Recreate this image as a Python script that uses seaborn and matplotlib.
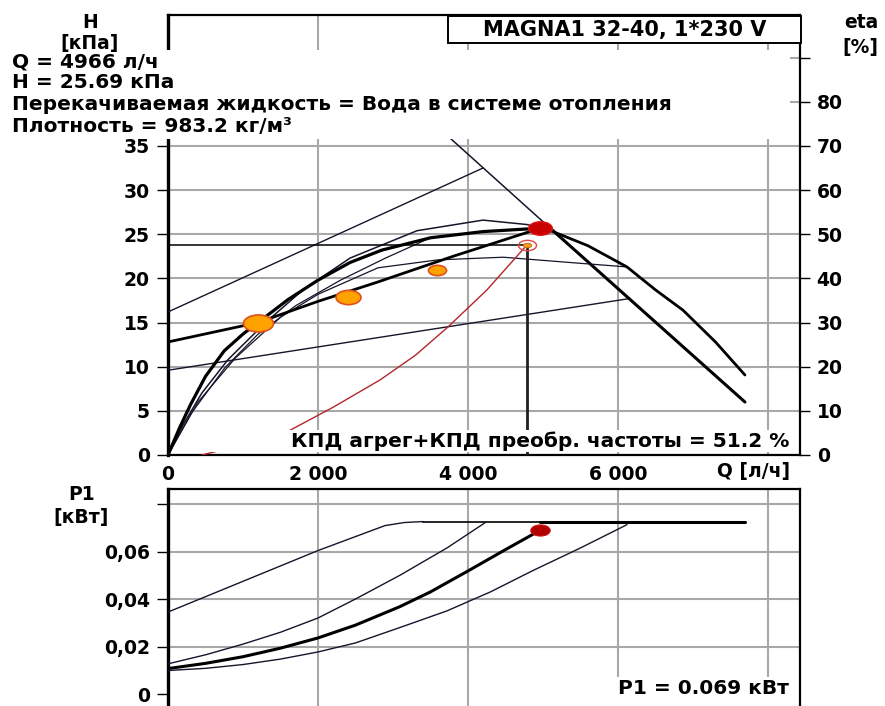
import numpy as np
import matplotlib
matplotlib.use("Agg")
import matplotlib.pyplot as plt
import seaborn as sns
from matplotlib.path import Path
from matplotlib.transforms import Affine2D
from matplotlib.patches import Rectangle

# ---------------- head curves: Q [л/ч], H [кПа] ----------------
q_steep = [0, 150, 300, 500, 750, 1000, 1200, 1600, 2000, 2427, 2850, 3500, 4200, 4966]
h_steep = [0, 3.0, 5.7, 8.9, 11.8, 13.7, 15.0, 17.6, 19.8, 21.8, 23.2, 24.6, 25.3, 25.69]

q_arc = [0, 200, 450, 800, 1300, 1800, 2427, 3320, 4200, 4787, 4966]
h_arc = [0, 3.4, 7.0, 10.8, 15.0, 18.7, 22.3, 25.4, 26.6, 26.1, 25.69]

q_max = [4966, 5133, 5600, 6120, 6500, 6867, 7300, 7693]
h_max = [25.69, 25.3, 23.7, 21.3, 18.7, 16.4, 12.8, 9.06]

q_mid = [0, 300, 760, 1190, 1700, 2300, 2900, 3500]
h_mid = [0, 4.6, 9.9, 13.6, 16.9, 19.8, 22.3, 24.6]

q_low = [0, 400, 900, 1500, 2000, 2800, 3600, 4470, 5360, 6120]
h_low = [0, 6.0, 11.0, 15.6, 18.2, 21.2, 22.1, 22.4, 21.8, 21.3]

q_prop = [0, 1200, 2000, 2800, 3800, 4966]
h_prop = [12.8, 15.0, 17.4, 19.6, 22.5, 25.69]

q_pp_hi = [0, 4200]
h_pp_hi = [16.2, 32.5]
q_pp_lo = [0, 6140]
h_pp_lo = [9.6, 17.7]

q_lim_thin = [3760, 5100]
h_lim_thin = [35.9, 25.66]
q_lim_thick = [5100, 7693]
h_lim_thick = [25.66, 6.0]

# efficiency curve, eta [%]
q_eta = [450, 1000, 1627, 2200, 2827, 3300, 3733, 4253, 4787]
eta_vals = [0, 2.3, 5.6, 10.8, 17.0, 22.6, 29.0, 37.4, 47.6]

# duty point and load profile points
q_duty, h_duty = 4966, 25.69
q_eta_pt, eta_pt = 4787, 47.6
q_profile = [1200, 2400, 3590]
h_profile = [15.0, 17.9, 21.0]
profile_width_pt = [21.6, 18.0, 13.0]

# ---------------- power curves: P1 [кВт] ----------------
q_p_a = [0, 2000, 2893, 3150, 3400]
p_a = [0.0345, 0.0604, 0.0709, 0.0722, 0.0726]
q_p_flat_thin = [3400, 4966]
p_flat_thin = [0.0726, 0.0726]
q_p_flat_thick = [4966, 7693]
p_flat_thick = [0.0726, 0.0726]
q_p_b = [0, 500, 1000, 1500, 2000, 2500, 3093, 3720, 4227]
p_b = [0.0127, 0.0165, 0.0210, 0.0260, 0.0320, 0.0400, 0.0500, 0.0615, 0.0721]
q_p_c = [0, 500, 1000, 1500, 2000, 2500, 3093, 3500, 4000, 4500, 4966]
p_c = [0.0107, 0.0129, 0.0157, 0.0193, 0.0236, 0.0290, 0.0368, 0.0430, 0.0518, 0.0608, 0.069]
q_p_d = [0, 500, 1000, 1500, 2000, 2500, 3093, 3720, 4300, 4867, 5500, 6120]
p_d = [0.0099, 0.0108, 0.0124, 0.0147, 0.0177, 0.0215, 0.0280, 0.0350, 0.0430, 0.0520, 0.0615, 0.0713]
p_duty = 0.069

# axis ticks
x_ticks = [0, 2000, 4000, 6000, 8000]
x_labels = ["0", "2 000", "4 000", "6 000", ""]
h_ticks = list(range(0, 50, 5))
h_labels = [str(v) if v <= 35 else "" for v in h_ticks]
eta_ticks = list(range(0, 100, 10))
eta_labels = [str(v) if v <= 80 else "" for v in eta_ticks]
p_ticks = [0, 0.02, 0.04, 0.06, 0.08]
p_labels = ["0", "0,02", "0,04", "0,06", ""]

# ---------------- figure ----------------
sns.set_theme(style="white")
plt.rcParams["font.family"] = ["DejaVu Sans"]
plt.rcParams["font.weight"] = "bold"

FW, FH = 885, 706
fig = plt.figure(figsize=(FW / 100, FH / 100), dpi=100)


def fx(p):
    return p / FW


def fy(p):
    return 1 - p / FH


ax = fig.add_axes([fx(168), fy(455), (800 - 168) / FW, (455 - 15) / FH])
# lower panel runs past the bottom edge of the figure
ax_p = fig.add_axes([fx(168), fy(712), (800 - 168) / FW, (712 - 489) / FH])

INK = "#000000"
THIN = "#15152b"
GRID = "#a8a8a8"
TICK_FS = 13.5

ellipse = Affine2D().scale(1.75, 1.0).transform_path(Path.unit_circle())


def line(axis, q, v, lw, color=THIN, z=3):
    sns.lineplot(x=q, y=v, ax=axis, color=color, linewidth=lw, sort=False,
                 estimator=None, legend=False, zorder=z)


# head chart
line(ax, q_pp_hi, h_pp_hi, 1.0)
line(ax, q_pp_lo, h_pp_lo, 1.0)
line(ax, q_lim_thin, h_lim_thin, 1.1)
line(ax, q_lim_thick, h_lim_thick, 2.2, INK)
line(ax, q_low, h_low, 0.9)
line(ax, q_mid, h_mid, 0.9)
line(ax, q_arc, h_arc, 1.1)
line(ax, q_max, h_max, 2.0, INK)
line(ax, q_steep, h_steep, 2.3, INK)
line(ax, q_prop, h_prop, 2.0, INK)
line(ax, [0, q_eta_pt], [eta_pt / 2, eta_pt / 2], 1.1, INK)
line(ax, [q_eta_pt, q_eta_pt], [0, eta_pt / 2], 2.0, "#202020")

ax.set_xlim(0, 8427)
ax.set_ylim(0, 49.83)
ax.set_xticks(x_ticks)
ax.set_xticklabels(x_labels)
ax.set_yticks(h_ticks)
ax.set_yticklabels(h_labels)
ax.set_xlabel("")
ax.set_ylabel("")
ax.grid(True, color=GRID, linewidth=1.5)
ax.set_axisbelow(True)
ax.tick_params(axis="x", direction="out", length=4, width=1.0, pad=3,
               labelsize=TICK_FS, colors=INK)
ax.tick_params(axis="y", direction="out", length=8, width=1.0, pad=5,
               labelsize=TICK_FS, colors=INK, left=True)
for name, sp in ax.spines.items():
    sp.set_visible(True)
    sp.set_color(INK)
    sp.set_linewidth(2.4 if name == "left" else 1.6)

ax_eta = ax.twinx()
line(ax_eta, q_eta, eta_vals, 1.0, "#b3262a")
ax_eta.set_ylim(0, 99.66)
ax_eta.set_yticks(eta_ticks)
ax_eta.set_yticklabels(eta_labels)
ax_eta.set_ylabel("")
ax_eta.grid(False)
ax_eta.tick_params(axis="y", direction="out", length=7, width=1.0, pad=5,
                   labelsize=TICK_FS, colors=INK, right=True)
for sp in ax_eta.spines.values():
    sp.set_visible(False)

# markers on the head chart
for q, h, w in zip(q_profile, h_profile, profile_width_pt):
    ax.plot(q, h, marker=ellipse, markersize=w, color="#ffa200",
            markeredgecolor="#e0501e", markeredgewidth=1.2, zorder=6)
ax.plot(q_duty, h_duty, marker=ellipse, markersize=17, color="#c80000",
        markeredgecolor="#e01010", markeredgewidth=1.0, zorder=7)
ax_eta.plot(q_eta_pt, eta_pt, marker=ellipse, markersize=13, color="none",
            markeredgecolor="#e04848", markeredgewidth=1.0, zorder=7)
ax_eta.plot(q_eta_pt, eta_pt, marker=ellipse, markersize=6, color="#f0a020",
            markeredgecolor="#d06010", markeredgewidth=0.6, zorder=7)

# power chart
line(ax_p, q_p_a, p_a, 1.0)
line(ax_p, q_p_flat_thin, p_flat_thin, 1.2, INK)
line(ax_p, q_p_flat_thick, p_flat_thick, 2.2, INK)
line(ax_p, q_p_b, p_b, 1.0)
line(ax_p, q_p_c, p_c, 2.2, INK)
line(ax_p, q_p_d, p_d, 1.0)
ax_p.plot(q_duty, p_duty, marker=ellipse, markersize=14, color="#b00000",
          markeredgecolor="#d01010", markeredgewidth=0.8, zorder=7)

P_PX = 2375.0  # pixels per kW in the lower panel
ax_p.set_xlim(0, 8427)
ax_p.set_ylim(-(712 - 694) / P_PX, (694 - 489) / P_PX)
ax_p.set_xticks(x_ticks)
ax_p.set_yticks(p_ticks)
ax_p.set_yticklabels(p_labels)
ax_p.set_xlabel("")
ax_p.set_ylabel("")
ax_p.grid(True, color=GRID, linewidth=1.5)
ax_p.yaxis.get_gridlines()[0].set_visible(False)
ax_p.set_axisbelow(True)
ax_p.tick_params(axis="x", length=0, labelbottom=False)
ax_p.tick_params(axis="y", direction="out", length=8, width=1.0, pad=5,
                 labelsize=TICK_FS, colors=INK, left=True)
for name, sp in ax_p.spines.items():
    sp.set_visible(True)
    sp.set_color(INK)
    sp.set_linewidth(2.4 if name == "left" else 1.6)

# ---------------- labels and boxes ----------------
TXT_FS = 14.5


def ftext(x, y, s, ha="left", fs=TXT_FS, **kw):
    fig.text(fx(x), fy(y), s, ha=ha, va="center", fontsize=fs, color=INK,
             **kw)


def white_box(x0, y0, x1, y1, edge="none", lw=0.0):
    fig.patches.append(Rectangle((fx(x0), fy(y1)), (x1 - x0) / FW,
                                 (y1 - y0) / FH, transform=fig.transFigure,
                                 facecolor="white", edgecolor=edge,
                                 linewidth=lw, zorder=2))


# pump name
white_box(448, 16, 801, 43, edge=INK, lw=1.4)
ftext(625, 30, "MAGNA1 32-40, 1*230 V", ha="center", fs=15)

# duty point info
white_box(10, 50, 790, 139)
ftext(12, 62, "Q = 4966 л/ч")
ftext(12, 83, "H = 25.69 кПа")
ftext(12, 105, "Перекачиваемая жидкость = Вода в системе отопления")
ftext(12, 127, "Плотность = 983.2 кг/м³")

# axis titles
ftext(90, 23, "H", ha="center", fs=13.5)
ftext(90, 43, "[кПа]", ha="center", fs=13.5)
ftext(861, 23, "eta", ha="center", fs=13.5)
ftext(860, 47, "[%]", ha="center", fs=13.5)
ftext(790, 471, "Q [л/ч]", ha="right", fs=13.5)
ftext(82, 495, "P1", ha="center", fs=13.5)
ftext(81, 518, "[кВт]", ha="center", fs=13.5)

# efficiency and power readouts
white_box(206, 430, 794, 452)
ftext(789, 441, "КПД агрег+КПД преобр. частоты = 51.2 %", ha="right")
white_box(570, 677, 794, 706)
ftext(789, 689, "P1 = 0.069 кВт", ha="right")

fig.savefig("out.png", dpi=100)
